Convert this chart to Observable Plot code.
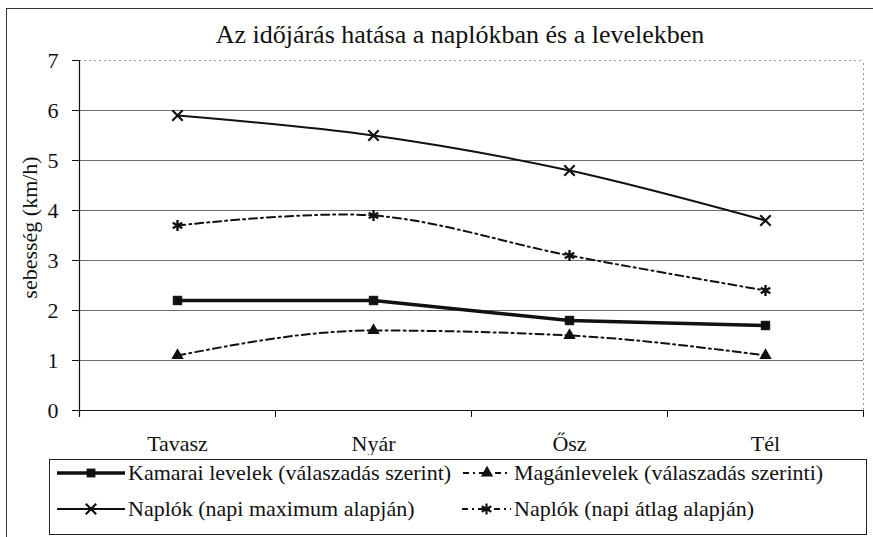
<!DOCTYPE html>
<html>
<head>
<meta charset="utf-8">
<script src="https://cdn.jsdelivr.net/npm/d3@7"></script>
<script src="https://cdn.jsdelivr.net/npm/@observablehq/plot@0.6"></script>
<style>
  html, body { margin: 0; padding: 0; background: #fff; overflow: hidden; }
  #wrap { position: relative; width: 873px; height: 537px; font-family: "Liberation Serif", "Times New Roman", Times, "DejaVu Serif", "Noto Serif", serif; color: #111; }
  #frame { position: absolute; left: 6px; top: 8px; width: 900px; height: 600px; border-left: 1.5px solid #333; border-top: 1.5px solid #333; }
  #title { position: absolute; left: 60px; width: 800px; top: 22px; text-align: center; font-size: 26px; line-height: 1; }
  #chart { position: absolute; left: 0; top: 0; }
  #legend { position: absolute; left: 49px; top: 459px; width: 816px; height: 74px; border: 1.5px solid #222; background: #fff; }
  .item { position: absolute; display: flex; align-items: center; font-size: 22px; line-height: 1; white-space: nowrap; }
  .item svg { display: block; margin-right: 3px; }
</style>
</head>
<body>
<div id="wrap">
  <div id="frame"></div>
  <div id="chart"></div>
  <div id="title">Az időjárás hatása a naplókban és a levelekben</div>
  <div id="legend"></div>
</div>
<script>
// ---- data ----
const seasons = ["Tavasz", "Nyár", "Ősz", "Tél"];
const kamarai = [2.2, 2.2, 1.8, 1.7];
const magan = [1.1, 1.6, 1.5, 1.1];
const naploMax = [5.9, 5.5, 4.8, 3.8];
const naploAtlag = [3.7, 3.9, 3.1, 2.4];
const yTicks = [0, 1, 2, 3, 4, 5, 6, 7];
const seriesNames = [
  "Kamarai levelek (válaszadás szerint)",
  "Magánlevelek (válaszadás szerinti)",
  "Naplók (napi maximum alapján)",
  "Naplók (napi átlag alapján)"
];

const rows = (vals) => vals.map((v, i) => ({i, v}));
const idx = seasons.map((_, i) => i);
const bounds = [...idx.map(i => i - 0.5), seasons.length - 0.5];

const font = '"Liberation Serif", "Times New Roman", Times, "DejaVu Serif", "Noto Serif", serif';
const dashDot = "8,4,2,4";

const plot = Plot.plot({
  width: 873,
  height: 455,
  marginLeft: 79,
  marginRight: 10,
  marginTop: 60,
  marginBottom: 45,
  style: {fontFamily: font, background: "transparent", color: "#111"},
  x: {type: "linear", domain: [-0.5, seasons.length - 0.5], axis: null},
  y: {domain: [0, 7], axis: null},
  marks: [
    Plot.ruleY(yTicks.filter(t => t > 0 && t < 7), {x1: -0.5, x2: seasons.length - 0.5, stroke: "#6e6e6e", strokeWidth: 1.2}),
    Plot.ruleY([7], {x1: -0.5, x2: seasons.length - 0.5, stroke: "#999", strokeDasharray: "2,3", strokeWidth: 1}),
    Plot.ruleX([seasons.length - 0.5], {y1: 0, y2: 7, stroke: "#999", strokeDasharray: "2,3", strokeWidth: 1}),
    Plot.ruleY([0], {x1: -0.5, x2: seasons.length - 0.5, stroke: "#111", strokeWidth: 1.2}),
    Plot.ruleX([-0.5], {y1: -0.14, y2: 7, stroke: "#111", strokeWidth: 1.2}),
    Plot.ruleX(bounds, {y1: -0.14, y2: 0, stroke: "#111", strokeWidth: 1}),
    Plot.axisY({ticks: yTicks, tickSize: 7, tickPadding: 14, fontSize: 22, stroke: "#111", tickFormat: d => String(d), label: null}),
    Plot.text(["sebesség (km/h)"], {frameAnchor: "left", textAnchor: "middle", rotate: -90, dx: -50, dy: -8, fontSize: 22, fill: "#111"}),
    Plot.axisX({ticks: idx, tickSize: 0, tickPadding: 25, fontSize: 22, tickFormat: i => seasons[i], label: null}),
    Plot.line(rows(kamarai), {x: "i", y: "v", stroke: "#111", strokeWidth: 3.5}),
    Plot.line(rows(magan), {x: "i", y: "v", stroke: "#111", strokeWidth: 2, strokeDasharray: dashDot, curve: "monotone-x"}),
    Plot.line(rows(naploMax), {x: "i", y: "v", stroke: "#111", strokeWidth: 2, curve: "catmull-rom"}),
    Plot.line(rows(naploAtlag), {x: "i", y: "v", stroke: "#111", strokeWidth: 2, strokeDasharray: dashDot, curve: "catmull-rom"}),
    Plot.dot(rows(kamarai), {x: "i", y: "v", symbol: "square", r: 5, fill: "#111", stroke: "#111", strokeWidth: 0.5}),
    Plot.dot(rows(magan), {x: "i", y: "v", symbol: "triangle", r: 4.6, fill: "#111"}),
    Plot.dot(rows(naploMax), {x: "i", y: "v", symbol: "times", r: 4.8, stroke: "#111", strokeWidth: 2.2}),
    Plot.dot(rows(naploAtlag), {x: "i", y: "v", symbol: "asterisk", r: 5.2, stroke: "#111", strokeWidth: 2.4})
  ]
});
document.getElementById("chart").appendChild(plot);
plot.querySelectorAll("text, g").forEach(el => el.style.fontFamily = font);

// ---- legend ----
function sample(w, dash, width, marker) {
  const ns = "http://www.w3.org/2000/svg";
  const svg = document.createElementNS(ns, "svg");
  svg.setAttribute("width", w);
  svg.setAttribute("height", 20);
  const line = document.createElementNS(ns, "line");
  line.setAttribute("x1", 0); line.setAttribute("x2", w);
  line.setAttribute("y1", 10); line.setAttribute("y2", 10);
  line.setAttribute("stroke", "#111");
  line.setAttribute("stroke-width", width);
  if (dash) line.setAttribute("stroke-dasharray", dash);
  svg.appendChild(line);
  const sym = {square: d3.symbolSquare, triangle: d3.symbolTriangle, times: d3.symbolTimes, asterisk: d3.symbolAsterisk}[marker];
  const p = document.createElementNS(ns, "path");
  const size = Math.PI * (marker === "triangle" ? 4.6 : marker === "square" ? 5 : marker === "asterisk" ? 5.2 : 4.8) ** 2;
  p.setAttribute("d", d3.symbol(sym, size)());
  p.setAttribute("transform", `translate(${w / 2},10)`);
  if (marker === "square" || marker === "triangle") {
    p.setAttribute("fill", "#111");
  } else {
    p.setAttribute("fill", "none");
    p.setAttribute("stroke", "#111");
    p.setAttribute("stroke-width", 2.2);
  }
  svg.appendChild(p);
  return svg;
}
const legendSpec = [
  {name: seriesNames[0], left: 7, top: 12, w: 68, dash: null, width: 3.5, marker: "square"},
  {name: seriesNames[1], left: 413, top: 12, w: 48, dash: "6,4,2,4", width: 2, marker: "triangle"},
  {name: seriesNames[2], left: 7, top: 48, w: 68, dash: null, width: 2, marker: "times"},
  {name: seriesNames[3], left: 412, top: 48, w: 49, dash: "6,4,2,4", width: 2, marker: "asterisk"}
];
const legend = document.getElementById("legend");
legendSpec.forEach(s => {
  const div = document.createElement("div");
  div.className = "item";
  div.style.left = s.left + "px";
  div.style.top = (s.top - 10) + "px";
  div.appendChild(sample(s.w, s.dash, s.width, s.marker));
  const span = document.createElement("span");
  span.textContent = s.name;
  div.appendChild(span);
  legend.appendChild(div);
});
</script>
</body>
</html>
